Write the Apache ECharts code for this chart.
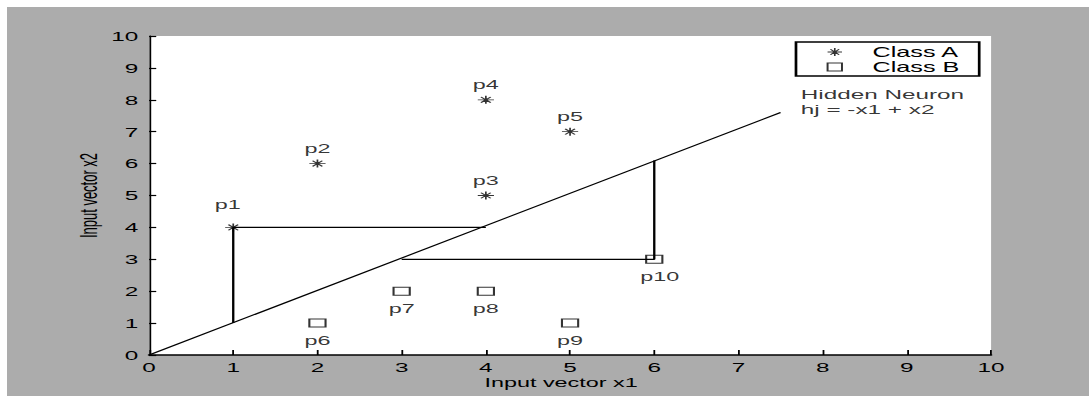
<!DOCTYPE html>
<html><head><meta charset="utf-8">
<script src="https://cdn.jsdelivr.net/npm/echarts@6/dist/echarts.min.js"></script>
<style>
html,body{margin:0;padding:0;background:#fff;width:1089px;height:396px;overflow:hidden;position:relative;}
#bg{position:absolute;left:7px;top:7px;width:1082px;height:389px;background:#acacac;}
#chart{position:absolute;left:0;top:0;width:605px;height:396px;transform:scaleX(1.8);transform-origin:0 0;}
</style></head><body>
<div id="bg"></div><div id="chart"></div>
<script>
// ---- data ----
const classANames = ['p1', 'p2', 'p3', 'p4', 'p5'];
const classAX = [1, 2, 4, 4, 5];
const classAY = [4, 6, 5, 8, 7];
const classBNames = ['p6', 'p7', 'p8', 'p9', 'p10'];
const classBX = [2, 3, 4, 5, 6];
const classBY = [1, 2, 2, 1, 3];
const boundaryX = [0, 7.5];
const boundaryY = [0, 7.6];
const projP1X = [1, 1, 4];
const projP1Y = [1, 4, 4];
const projP10X = [3, 6, 6];
const projP10Y = [3, 3, 6.1];
const annotationX = [7.74];
const annotationY = [8.42];
const annotationText = 'Hidden Neuron\nhj = -x1 + x2';
const legendNames = ['Class A', 'Class B'];
const axisMin = 0, axisMax = 10, axisStep = 1;

// ---- chart ----
const FONT = "'Liberation Sans', Arial, sans-serif";
const zip = (xs, ys) => xs.map((x, i) => [x, ys[i]]);
const STAR = 'path://M5,0L5,10M0,5L10,5M2,1.5L8,8.5M8,1.5L2,8.5';
const labelNudge = { p1: [-3, -8], p10: [3, 0] };
const pts = (names, xs, ys) => names.map((n, i) => {
  const d = { name: n, value: [xs[i], ys[i]] };
  if (labelNudge[n]) d.label = { offset: labelNudge[n] };
  return d;
});
const chart = echarts.init(document.getElementById('chart'), null, { renderer: 'svg' });
const lineSeries = (xs, ys, w) => ({
  type: 'line', data: zip(xs, ys), symbol: 'none', silent: true, z: 1,
  lineStyle: { color: '#000', width: w }, animation: false
});
const axisCommon = {
  type: 'value', min: axisMin, max: axisMax, interval: axisStep,
  splitLine: { show: false },
  nameLocation: 'middle',
  nameMoveOverlap: false,
  nameTextStyle: { color: '#000', fontSize: 13, fontFamily: FONT }
};
const starStyle = { color: 'transparent', borderColor: '#000', borderWidth: 0.9 };
const boxStyle = { color: 'transparent', borderColor: '#000', borderWidth: 1.1 };
chart.setOption({
  animation: false,
  backgroundColor: 'transparent',
  textStyle: { fontFamily: FONT },
  grid: { left: 82.8, right: 54.4, top: 36, bottom: 41, show: true, backgroundColor: '#fff', borderWidth: 0 },
  xAxis: Object.assign({}, axisCommon, {
    name: 'Input vector x1', nameGap: 21,
    nameTextStyle: { color: '#000', fontSize: 13, fontFamily: FONT, padding: [0, 10, 0, 0] },
    axisLine: { lineStyle: { color: '#000', width: 1.5 } },
    axisTick: { inside: true, length: 5, lineStyle: { color: '#000', width: 1 } },
    axisLabel: { color: '#000', fontSize: 13.5, margin: 5, fontFamily: FONT }
  }),
  yAxis: Object.assign({}, axisCommon, {
    name: 'Input vector x2', nameGap: 27,
    axisLine: { lineStyle: { color: '#000', width: 1 } },
    axisTick: { inside: true, length: 4, lineStyle: { color: '#000', width: 1.2 } },
    axisLabel: { color: '#000', fontSize: 13.5, margin: 6, fontFamily: FONT }
  }),
  legend: {
    data: [
      { name: legendNames[0], icon: STAR, itemStyle: starStyle },
      { name: legendNames[1], icon: 'rect', itemStyle: boxStyle }
    ],
    orient: 'vertical', right: 61, top: 42,
    padding: [3, 11, 2, 17], itemGap: 1, itemWidth: 8, itemHeight: 8,
    borderColor: '#000', borderWidth: 1.5, backgroundColor: '#fff',
    textStyle: { color: '#000', fontSize: 14, lineHeight: 14, fontFamily: FONT, padding: [0, 0, 0, 12] },
    selectedMode: false
  },
  series: [
    lineSeries(boundaryX, boundaryY, 1.1),
    lineSeries(projP1X, projP1Y, 1.3),
    lineSeries(projP10X, projP10Y, 1.3),
    {
      name: 'Class A', type: 'scatter', symbol: STAR, symbolSize: [9, 8], z: 3,
      data: pts(classANames, classAX, classAY),
      itemStyle: starStyle,
      label: { show: true, position: 'top', distance: 4, formatter: '{b}', color: '#000', fontSize: 13, fontFamily: FONT }
    },
    {
      name: 'Class B', type: 'scatter', symbol: 'rect', symbolSize: [9, 8], z: 3,
      data: pts(classBNames, classBX, classBY),
      itemStyle: boxStyle,
      label: { show: true, position: 'bottom', distance: 6, formatter: '{b}', color: '#000', fontSize: 13, fontFamily: FONT }
    },
    {
      name: 'annotation', type: 'scatter', symbolSize: 0, silent: true, z: 4,
      data: zip(annotationX, annotationY),
      label: { show: true, position: [0, 0], align: 'left', verticalAlign: 'top', formatter: annotationText,
        color: '#000', fontSize: 13.5, lineHeight: 15, fontFamily: FONT }
    }
  ]
});
</script>
</body></html>
